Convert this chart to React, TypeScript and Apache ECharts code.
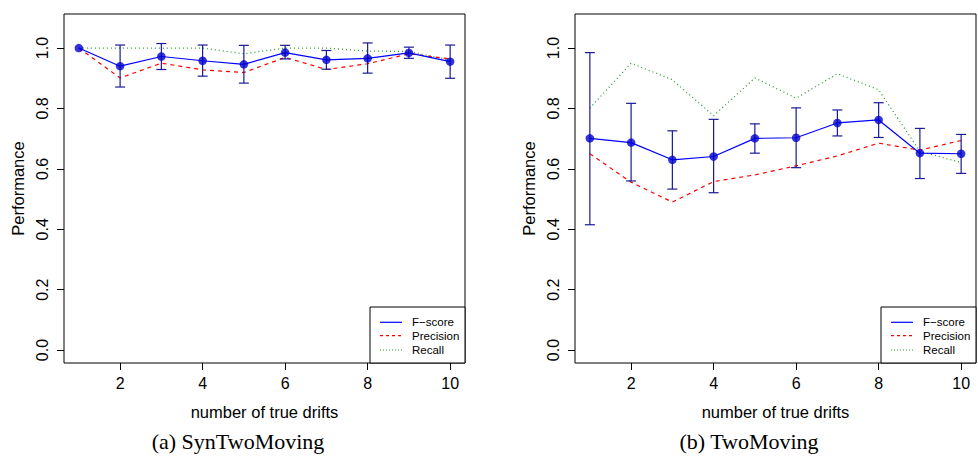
import React, { useEffect, useRef } from "react";
import * as echarts from "echarts";

const drifts = [1, 2, 3, 4, 5, 6, 7, 8, 9, 10];
const xTicks = [2, 4, 6, 8, 10];
const yTicks = [0, 0.2, 0.4, 0.6, 0.8, 1.0];

// (a) SynTwoMoving
const synF = [1.0, 0.94, 0.972, 0.958, 0.946, 0.985, 0.961, 0.966, 0.984, 0.955];
const synFLow = [null, 0.871, 0.929, 0.907, 0.884, 0.964, 0.93, 0.917, 0.966, 0.9];
const synFHigh = [null, 1.01, 1.015, 1.01, 1.009, 1.009, 0.992, 1.017, 1.003, 1.01];
const synP = [1.0, 0.901, 0.95, 0.928, 0.919, 0.969, 0.929, 0.948, 0.981, 0.964];
const synR = [1.0, 1.0, 1.0, 1.0, 0.981, 1.0, 1.0, 0.99, 0.989, 0.96];

// (b) TwoMoving
const twoF = [0.701, 0.687, 0.63, 0.641, 0.701, 0.703, 0.752, 0.762, 0.652, 0.65];
const twoFLow = [0.415, 0.56, 0.533, 0.521, 0.652, 0.604, 0.709, 0.704, 0.568, 0.585];
const twoFHigh = [0.985, 0.817, 0.726, 0.764, 0.749, 0.802, 0.795, 0.819, 0.734, 0.714];
const twoP = [0.65, 0.556, 0.49, 0.558, 0.58, 0.61, 0.643, 0.685, 0.662, 0.694];
const twoR = [0.801, 0.95, 0.895, 0.776, 0.901, 0.834, 0.915, 0.862, 0.658, 0.621];

const legendNames = ["F\u2212score", "Precision", "Recall"];
const captions = ["(a) SynTwoMoving", "(b) TwoMoving"];
const xTitle = "number of true drifts";
const yTitle = "Performance";

const SANS = "Liberation Sans, Arial, Helvetica, sans-serif";
const SERIF = "Liberation Serif, Times New Roman, serif";
const BLUE = "#0000ff";
const RED = "#ff0000";
const GREEN = "#2f9a2f";
const BAR = "#1a1a96";

const pairs = (ys: (number | null)[]) => drifts.map((x, i) => [x, ys[i]]);
const bars = (lo: (number | null)[], hi: (number | null)[]) =>
  drifts
    .map((x, i) => [x, lo[i], hi[i]])
    .filter((d) => d[1] !== null && d[2] !== null);

const renderBar = (params: any, api: any) => {
  const x = api.value(0);
  const pLo = api.coord([x, api.value(1)]);
  const pHi = api.coord([x, api.value(2)]);
  const w = 5;
  const style = { stroke: BAR, lineWidth: 1.2 };
  return {
    type: "group",
    children: [
      { type: "line", shape: { x1: pLo[0], y1: pLo[1], x2: pHi[0], y2: pHi[1] }, style },
      { type: "line", shape: { x1: pLo[0] - w, y1: pLo[1], x2: pLo[0] + w, y2: pLo[1] }, style },
      { type: "line", shape: { x1: pHi[0] - w, y1: pHi[1], x2: pHi[0] + w, y2: pHi[1] }, style },
    ],
  };
};

const panels = [
  { left: 64, F: synF, lo: synFLow, hi: synFHigh, P: synP, R: synR },
  { left: 575, F: twoF, lo: twoFLow, hi: twoFHigh, P: twoP, R: twoR },
];
const GRID_W = 401;
const GRID_TOP = 14;
const GRID_H = 349;

export default function App() {
  const ref = useRef<HTMLDivElement>(null);
  useEffect(() => {
    if (!ref.current) return;
    const chart = echarts.init(ref.current, undefined, { renderer: "svg" });
    const grid: any[] = [];
    const xAxis: any[] = [];
    const yAxis: any[] = [];
    const series: any[] = [];
    const graphic: any[] = [];

    panels.forEach((p, k) => {
      grid.push({
        left: p.left,
        top: GRID_TOP,
        width: GRID_W,
        height: GRID_H,
        show: true,
        borderColor: "#000",
        borderWidth: 1,
        backgroundColor: "#fff",
        containLabel: false,
        outerBoundsMode: "none",
      });
      xAxis.push({
        type: "value",
        gridIndex: k,
        position: "bottom",
        min: 0.64,
        max: 10.36,
        axisLine: { show: false, onZero: false },
        splitLine: { show: false },
        axisTick: { show: true, length: 7, customValues: xTicks, lineStyle: { color: "#000" } },
        axisLabel: {
          customValues: xTicks,
          margin: 12,
          fontSize: 16,
          fontFamily: SANS,
          color: "#000",
        },
      });
      yAxis.push({
        type: "value",
        gridIndex: k,
        position: "left",
        min: -0.0428,
        max: 1.1128,
        axisLine: { show: false, onZero: false },
        splitLine: { show: false },
        axisTick: { show: true, length: 7, customValues: yTicks, lineStyle: { color: "#000" } },
        axisLabel: {
          customValues: yTicks,
          rotate: 90,
          margin: 14,
          fontSize: 16,
          fontFamily: SANS,
          color: "#000",
          formatter: (v: number) => v.toFixed(1),
        },
      });
      series.push(
        {
          type: "line",
          xAxisIndex: k,
          yAxisIndex: k,
          data: pairs(p.R),
          symbol: "none",
          lineStyle: { color: GREEN, width: 1.3, type: [1, 3] },
          z: 2,
        },
        {
          type: "line",
          xAxisIndex: k,
          yAxisIndex: k,
          data: pairs(p.P),
          symbol: "none",
          lineStyle: { color: RED, width: 1.2, type: [4, 4] },
          z: 2,
        },
        {
          type: "line",
          xAxisIndex: k,
          yAxisIndex: k,
          data: pairs(p.F),
          symbol: "none",
          lineStyle: { color: BLUE, width: 1.2 },
          z: 3,
        },
        {
          type: "custom",
          xAxisIndex: k,
          yAxisIndex: k,
          data: bars(p.lo, p.hi),
          encode: { x: 0, y: [1, 2] },
          renderItem: renderBar,
          z: 4,
        },
        {
          type: "scatter",
          xAxisIndex: k,
          yAxisIndex: k,
          data: pairs(p.F),
          symbol: "circle",
          symbolSize: 8.5,
          itemStyle: { color: "#0000d0" },
          z: 5,
        }
      );

      const cx = p.left + GRID_W / 2;
      graphic.push(
        {
          type: "text",
          x: cx,
          y: 412,
          style: { text: xTitle, font: `16.5px ${SANS}`, fill: "#000", align: "center", verticalAlign: "middle" },
        },
        {
          type: "text",
          x: p.left - 46,
          y: GRID_TOP + GRID_H / 2,
          rotation: Math.PI / 2,
          style: { text: yTitle, font: `16.5px ${SANS}`, fill: "#000", align: "center", verticalAlign: "middle" },
        },
        {
          type: "text",
          x: cx - 26.5,
          y: 441,
          style: { text: captions[k], font: `22px ${SERIF}`, fill: "#000", align: "center", verticalAlign: "middle" },
        }
      );

      // legend box
      const lx = p.left + GRID_W - 95;
      const ly = 307;
      const rows = [322.3, 335.7, 350];
      const styles = [
        { stroke: BLUE, lineWidth: 1.2 },
        { stroke: RED, lineWidth: 1.2, lineDash: [3, 3] },
        { stroke: GREEN, lineWidth: 1.2, lineDash: [1, 2] },
      ];
      graphic.push({
        type: "rect",
        shape: { x: lx, y: ly, width: 95, height: GRID_TOP + GRID_H - ly },
        style: { fill: "#fff", stroke: "#000", lineWidth: 1 },
        z: 10,
      });
      rows.forEach((ry, i) => {
        graphic.push(
          {
            type: "line",
            shape: { x1: lx + 10, y1: ry, x2: lx + 32, y2: ry },
            style: styles[i],
            z: 11,
          },
          {
            type: "text",
            x: lx + 42,
            y: ry,
            style: { text: legendNames[i], font: `11.5px ${SANS}`, fill: "#000", align: "left", verticalAlign: "middle" },
            z: 11,
          }
        );
      });
    });

    chart.setOption({
      animation: false,
      backgroundColor: "#fff",
      grid,
      xAxis,
      yAxis,
      series,
      graphic,
    });
    return () => chart.dispose();
  }, []);
  return (
    <div
      ref={ref}
      style={{ position: "fixed", left: 0, top: 0, width: 978, height: 464 }}
    />
  );
}
